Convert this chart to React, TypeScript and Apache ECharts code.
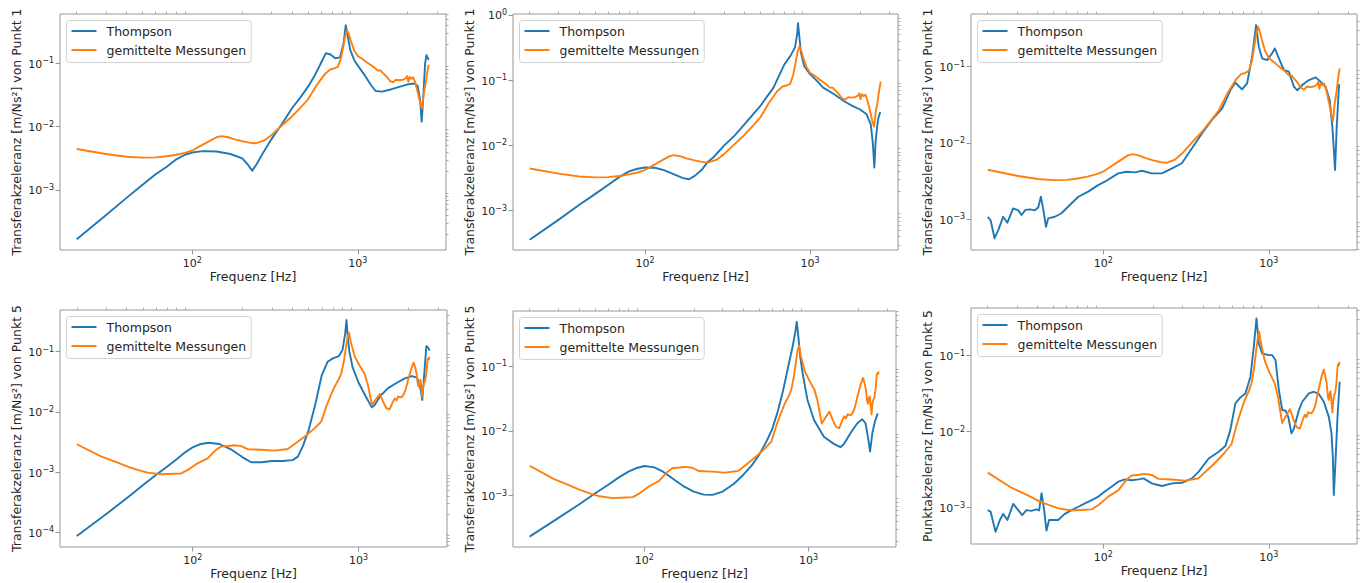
import React, { useEffect, useRef } from 'react';
import * as echarts from 'echarts';

// ---------- data: [frequency Hz, value m/Ns^2] ----------
const orangePunkt1 = [
  [20, 4.44e-3], [30, 3.7e-3], [40, 3.35e-3], [50, 3.24e-3], [60, 3.27e-3], [70, 3.4e-3], [80, 3.6e-3],
  [90, 3.85e-3], [100, 4.2e-3], [110, 4.83e-3], [125, 5.8e-3], [140, 6.8e-3], [150, 7.1e-3], [165, 6.8e-3],
  [180, 6.3e-3], [200, 5.9e-3], [220, 5.6e-3], [240, 5.46e-3], [270, 6.0e-3], [300, 7.3e-3], [350, 1.06e-2],
  [400, 1.45e-2], [450, 2.0e-2], [500, 2.7e-2], [560, 4.4e-2], [630, 6.7e-2], [680, 8.0e-2], [720, 8.3e-2],
  [757, 8.8e-2], [790, 0.12], [815, 0.18], [840, 0.27], [862, 0.335], [885, 0.28], [910, 0.22], [950, 0.16],
  [1000, 0.13], [1050, 0.12], [1130, 0.104], [1230, 0.09], [1320, 0.077], [1370, 0.077], [1420, 0.07],
  [1490, 0.062], [1560, 0.053], [1630, 0.05], [1700, 0.055], [1780, 0.054], [1870, 0.055], [1950, 0.058],
  [1990, 0.063], [2020, 0.051], [2060, 0.061], [2110, 0.057], [2160, 0.06], [2210, 0.052], [2260, 0.042],
  [2320, 0.032], [2380, 0.024], [2440, 0.0195], [2500, 0.033], [2560, 0.045], [2620, 0.07], [2680, 0.095],
];

const orangePunkt5 = [
  [20, 2.9e-3], [28, 1.82e-3], [35, 1.45e-3], [40.5, 1.23e-3], [47, 1.08e-3], [53.5, 9.8e-4], [64, 9.2e-4],
  [77, 9.4e-4], [85, 9.5e-4], [93, 1.08e-3], [107, 1.4e-3], [123, 1.69e-3], [138, 2.33e-3], [148, 2.65e-3],
  [165, 2.72e-3], [178, 2.79e-3], [196, 2.7e-3], [215, 2.4e-3], [258, 2.35e-3], [311, 2.27e-3], [374, 2.42e-3],
  [411, 2.93e-3], [472, 3.88e-3], [542, 5.33e-3], [595, 6.9e-3], [638, 1.22e-2], [680, 1.9e-2], [716, 2.62e-2],
  [760, 3.5e-2], [786, 4.36e-2], [815, 7e-2], [843, 0.129], [860, 0.18], [875, 0.206], [900, 0.14],
  [946, 0.085], [1010, 0.06], [1087, 0.043], [1138, 0.028], [1204, 0.013], [1262, 0.0158], [1341, 0.0198],
  [1404, 0.0148], [1470, 0.0115], [1539, 0.011], [1611, 0.0148], [1650, 0.0168], [1690, 0.0155], [1727, 0.018],
  [1808, 0.0174], [1860, 0.019], [1915, 0.023], [1987, 0.0339], [2080, 0.0528], [2148, 0.0656], [2190, 0.055],
  [2235, 0.044], [2270, 0.03], [2300, 0.0262], [2330, 0.032], [2360, 0.034], [2390, 0.025], [2421, 0.0179],
  [2450, 0.026], [2477, 0.0298], [2520, 0.033], [2560, 0.0436], [2600, 0.07], [2618, 0.0776], [2650, 0.075],
  [2677, 0.0826],
];

const thompsonP1 = [
  [20, 1.66e-4], [30, 3.98e-4], [40, 7.5e-4], [50, 1.21e-3], [60, 1.77e-3], [70, 2.33e-3], [80, 3.05e-3],
  [90, 3.6e-3], [100, 3.9e-3], [115, 4.1e-3], [140, 4.05e-3], [170, 3.7e-3], [200, 3.16e-3], [215, 2.57e-3],
  [230, 2.02e-3], [245, 2.57e-3], [270, 4.03e-3], [300, 6.3e-3], [350, 1.13e-2], [400, 1.95e-2], [450, 2.9e-2],
  [500, 4.28e-2], [550, 6.5e-2], [600, 0.102], [640, 0.144], [680, 0.139], [730, 0.12], [780, 0.124],
  [820, 0.207], [845, 0.4], [870, 0.264], [900, 0.162], [950, 0.113], [1000, 0.092], [1100, 0.065],
  [1200, 0.0455], [1280, 0.0366], [1400, 0.0357], [1600, 0.039], [1800, 0.0428], [2000, 0.0466], [2200, 0.048],
  [2300, 0.044], [2380, 0.0264], [2430, 0.012], [2480, 0.0264], [2550, 0.1], [2600, 0.135], [2680, 0.113],
];

const thompsonP2 = [
  [20, 3.6e-4], [30, 7.3e-4], [40, 1.23e-3], [50, 1.81e-3], [60, 2.5e-3], [70, 3.3e-3], [80, 4.0e-3],
  [90, 4.4e-3], [100, 4.6e-3], [115, 4.55e-3], [130, 4.2e-3], [150, 3.62e-3], [170, 3.16e-3], [185, 3.04e-3],
  [200, 3.42e-3], [220, 4.2e-3], [240, 5.6e-3], [260, 6.6e-3], [300, 9.85e-3], [350, 1.43e-2], [400, 2.11e-2],
  [500, 4.03e-2], [600, 7.7e-2], [700, 0.176], [760, 0.236], [810, 0.316], [835, 0.507], [845, 0.748],
  [860, 0.48], [880, 0.265], [920, 0.166], [1000, 0.124], [1100, 0.0977], [1200, 0.077], [1400, 0.061],
  [1600, 0.048], [1800, 0.0404], [2000, 0.0359], [2200, 0.03], [2330, 0.0212], [2400, 0.011], [2450, 4.6e-3],
  [2500, 0.0124], [2580, 0.025], [2660, 0.0327],
];

const thompsonP3 = [
  [20, 1.07e-3], [20.8, 9.7e-4], [22, 5.6e-4], [23.2, 7.2e-4], [24.8, 1.07e-3], [26.3, 8.95e-4], [28.5, 1.38e-3],
  [30.6, 1.3e-3], [32, 1.13e-3], [33.8, 1.32e-3], [36, 1.34e-3], [38.5, 1.3e-3], [40.4, 1.42e-3], [41.9, 1.96e-3],
  [43.3, 1.35e-3], [45, 7.9e-4], [46.4, 1.02e-3], [50.9, 1.07e-3], [55.8, 1.19e-3], [64.3, 1.61e-3],
  [70.6, 1.96e-3], [81, 2.29e-3], [93, 2.79e-3], [102, 3.09e-3], [123, 3.98e-3], [138, 4.18e-3], [156, 4.1e-3],
  [171, 4.3e-3], [196, 3.98e-3], [226, 3.98e-3], [260, 4.62e-3], [298, 5.4e-3], [343, 8.5e-3], [394, 1.33e-2],
  [453, 2.0e-2], [522, 2.84e-2], [586, 4.94e-2], [628, 6.16e-2], [689, 5.03e-2], [739, 6.05e-2], [792, 0.135],
  [838, 0.352], [869, 0.183], [911, 0.129], [977, 0.122], [1047, 0.15], [1087, 0.174], [1150, 0.129],
  [1233, 0.09], [1321, 0.086], [1418, 0.0546], [1486, 0.049], [1592, 0.0575], [1746, 0.0668], [1918, 0.0724],
  [2055, 0.0636], [2203, 0.0546], [2332, 0.0365], [2420, 0.0163], [2513, 4.4e-3], [2572, 0.0163], [2656, 0.059],
];

const thompsonP4 = [
  [20, 8.7e-5], [30, 2.0e-4], [40, 3.67e-4], [50, 6.04e-4], [60, 8.97e-4], [70, 1.23e-3], [80, 1.63e-3],
  [90, 2.13e-3], [100, 2.58e-3], [110, 2.9e-3], [125, 3.08e-3], [145, 2.93e-3], [170, 2.39e-3], [200, 1.76e-3],
  [225, 1.46e-3], [260, 1.46e-3], [300, 1.53e-3], [350, 1.53e-3], [400, 1.58e-3], [430, 1.81e-3], [460, 2.65e-3],
  [500, 5.0e-3], [550, 1.39e-2], [600, 0.041], [650, 0.068], [700, 0.0775], [760, 0.0847], [800, 0.107],
  [830, 0.201], [845, 0.336], [860, 0.177], [880, 0.1], [920, 0.055], [1000, 0.0305], [1100, 0.0184],
  [1200, 0.0119], [1250, 0.013], [1350, 0.0184], [1500, 0.0246], [1700, 0.0305], [1900, 0.036], [2100, 0.0394],
  [2250, 0.037], [2350, 0.0262], [2420, 0.0158], [2480, 0.0384], [2560, 0.124], [2620, 0.118], [2680, 0.104],
];

const thompsonP5 = [
  [20, 2.34e-4], [30, 4.56e-4], [40, 7.33e-4], [50, 1.08e-3], [60, 1.46e-3], [70, 1.92e-3], [80, 2.35e-3],
  [90, 2.68e-3], [100, 2.87e-3], [115, 2.74e-3], [130, 2.35e-3], [150, 1.81e-3], [175, 1.38e-3], [200, 1.16e-3],
  [230, 1.04e-3], [260, 1.03e-3], [300, 1.16e-3], [350, 1.52e-3], [400, 2.09e-3], [450, 2.91e-3], [500, 4.25e-3],
  [550, 6.6e-3], [600, 1.05e-2], [650, 2.0e-2], [700, 4.2e-2], [750, 9.5e-2], [800, 0.2], [830, 0.33],
  [848, 0.48], [865, 0.3], [890, 0.14], [920, 0.078], [985, 0.03], [1080, 0.0147], [1240, 8.1e-3],
  [1425, 6.3e-3], [1563, 5.6e-3], [1638, 6.2e-3], [1800, 9.2e-3], [1983, 1.31e-2], [2126, 1.51e-2],
  [2224, 1.31e-2], [2300, 8.1e-3], [2370, 4.8e-3], [2447, 9.2e-3], [2538, 1.4e-2], [2640, 1.86e-2],
];

const thompsonP6 = [
  [20, 9.3e-4], [20.8, 8.9e-4], [22.3, 4.83e-4], [23.7, 6.9e-4], [24.8, 8.3e-4], [26.3, 6.9e-4], [28.5, 1.12e-3],
  [30.6, 9.3e-4], [32.3, 8.0e-4], [34.3, 9.3e-4], [36.7, 9.1e-4], [39.4, 9.5e-4], [40.9, 9.2e-4], [42.3, 1.55e-3],
  [43.8, 9.5e-4], [45.3, 5.0e-4], [47, 6.9e-4], [49.7, 6.9e-4], [53.3, 6.9e-4], [58.5, 8.3e-4], [64.3, 9.3e-4],
  [70.6, 1.03e-3], [77.4, 1.14e-3], [85, 1.26e-3], [93.3, 1.4e-3], [102, 1.63e-3], [112, 1.89e-3], [123, 2.2e-3],
  [135, 2.36e-3], [148, 2.3e-3], [163, 2.36e-3], [175, 2.43e-3], [196, 2.09e-3], [226, 1.93e-3], [260, 2.09e-3],
  [298, 2.13e-3], [343, 2.43e-3], [377, 2.98e-3], [433, 4.45e-3], [498, 5.46e-3], [546, 6.47e-3], [585, 1.05e-2],
  [628, 2.36e-2], [673, 2.83e-2], [722, 3.19e-2], [774, 5.3e-2], [811, 0.131], [842, 0.31], [870, 0.145],
  [911, 0.107], [1000, 0.102], [1047, 0.102], [1097, 0.0877], [1150, 0.0353], [1205, 0.0193], [1262, 0.0189],
  [1310, 0.0157], [1370, 9.5e-3], [1418, 1.1e-2], [1520, 0.0193], [1592, 0.0248], [1746, 0.0319], [1871, 0.0336],
  [2005, 0.0313], [2150, 0.0248], [2304, 0.0157], [2391, 9.5e-3], [2436, 4.7e-3], [2470, 1.47e-3], [2530, 4.2e-3],
  [2600, 0.0157], [2680, 0.0455],
];

const seriesNames = ['Thompson', 'gemittelte Messungen'];
const xMajorTicks = [100, 1000];
const xMinorTicks = [20, 30, 40, 50, 60, 70, 80, 90, 200, 300, 400, 500, 600, 700, 800, 900, 2000, 3000];
const xLabel = 'Frequenz [Hz]';
const yLabels = [
  'Transferakzeleranz [m/Ns²] von Punkt 1',
  'Transferakzeleranz [m/Ns²] von Punkt 1',
  'Transferakzeleranz [m/Ns²] von Punkt 1',
  'Transferakzeleranz [m/Ns²] von Punkt 5',
  'Transferakzeleranz [m/Ns²] von Punkt 5',
  'Punktakzeleranz [m/Ns²] von Punkt 5',
];

// ---------- layout ----------
const X_MIN = 15.85;
const X_MAX = 3410;
const panels = [
  { left: 60, top: 14, width: 386, height: 236, yMin: 1.127e-4, yMax: 0.601, th: thompsonP1, me: orangePunkt1 },
  { left: 513, top: 14, width: 385, height: 236, yMin: 2.5e-4, yMax: 1.035, th: thompsonP2, me: orangePunkt1 },
  { left: 971, top: 14, width: 386, height: 236, yMin: 3.92e-4, yMax: 0.492, th: thompsonP3, me: orangePunkt1 },
  { left: 60, top: 310, width: 387, height: 237, yMin: 5.7e-5, yMax: 0.493, th: thompsonP4, me: orangePunkt5 },
  { left: 513, top: 311, width: 383, height: 236, yMin: 1.62e-4, yMax: 0.705, th: thompsonP5, me: orangePunkt5 },
  { left: 971, top: 308, width: 386, height: 236, yMin: 3.33e-4, yMax: 0.425, th: thompsonP6, me: orangePunkt5 },
];

const FONT = 'DejaVu Sans';
const TXT = '#262626';
const FRAME = '#969696';
const BLUE = '#1f77b4';
const ORANGE = '#ff7f0e';

function majorTicks(min: number, max: number) {
  const out: number[] = [];
  for (let e = Math.floor(Math.log10(min)); e <= Math.ceil(Math.log10(max)); e++) {
    const v = Math.pow(10, e);
    if (v >= min && v <= max) out.push(v);
  }
  return out;
}
function minorTicks(min: number, max: number) {
  const out: number[] = [];
  for (let e = Math.floor(Math.log10(min)); e <= Math.ceil(Math.log10(max)); e++) {
    for (let k = 2; k <= 9; k++) {
      const v = k * Math.pow(10, e);
      if (v >= min && v <= max) out.push(v);
    }
  }
  return out;
}
function powLabel(v: number) {
  const e = Math.round(Math.log10(v));
  return `{b|10}{s|${e < 0 ? '\u2212' : ''}${Math.abs(e)}}`;
}
const rich = {
  b: { fontSize: 11, fontFamily: FONT, color: TXT, verticalAlign: 'bottom' },
  s: { fontSize: 8, fontFamily: FONT, color: TXT, verticalAlign: 'bottom', padding: [0, 0, 5, 0] },
};

function buildOption() {
  const grid = panels.map((p) => ({
    left: p.left, top: p.top, width: p.width, height: p.height,
    show: true, borderColor: FRAME, borderWidth: 1, backgroundColor: 'transparent',
    containLabel: false, outerBoundsMode: 'none',
  }));
  const xAxis: any[] = [];
  const yAxis: any[] = [];
  const series: any[] = [];
  const legend: any[] = [];
  panels.forEach((p, i) => {
    xAxis.push({
      type: 'log', gridIndex: i, min: X_MIN, max: X_MAX,
      axisLine: { show: false }, splitLine: { show: false },
      axisTick: { show: true, customValues: xMajorTicks, length: 4.5, lineStyle: { color: FRAME, width: 1 } },
      axisLabel: { customValues: xMajorTicks, formatter: powLabel, rich, margin: 6 },
      name: xLabel, nameLocation: 'middle', nameGap: 20,
      nameTextStyle: { fontSize: 12.5, fontFamily: FONT, color: TXT },
    });
    xAxis.push({
      type: 'log', gridIndex: i, min: X_MIN, max: X_MAX,
      axisLine: { show: false }, splitLine: { show: false }, axisLabel: { show: false },
      axisTick: { show: true, customValues: xMinorTicks, length: 2.5, lineStyle: { color: FRAME, width: 0.8 } },
    });
    yAxis.push({
      type: 'log', gridIndex: i, min: p.yMin, max: p.yMax,
      axisLine: { show: false }, splitLine: { show: false },
      axisTick: { show: true, customValues: majorTicks(p.yMin, p.yMax), length: 4.5, lineStyle: { color: FRAME, width: 1 } },
      axisLabel: { customValues: majorTicks(p.yMin, p.yMax), formatter: powLabel, rich, margin: 6 },
      name: yLabels[i], nameLocation: 'middle', nameGap: 37,
      nameTextStyle: { fontSize: 12.5, fontFamily: FONT, color: TXT },
    });
    yAxis.push({
      type: 'log', gridIndex: i, min: p.yMin, max: p.yMax,
      axisLine: { show: false }, splitLine: { show: false }, axisLabel: { show: false },
      axisTick: { show: true, customValues: minorTicks(p.yMin, p.yMax), length: 2.5, lineStyle: { color: FRAME, width: 0.8 } },
    });
    series.push({
      type: 'line', name: seriesNames[0], xAxisIndex: 2 * i, yAxisIndex: 2 * i, data: p.th,
      symbol: 'none', showSymbol: false, smooth: false,
      color: BLUE, lineStyle: { color: BLUE, width: 1.9, join: 'round' }, z: 2,
    });
    series.push({
      type: 'line', name: seriesNames[1], xAxisIndex: 2 * i, yAxisIndex: 2 * i, data: p.me,
      symbol: 'none', showSymbol: false, smooth: false,
      color: ORANGE, lineStyle: { color: ORANGE, width: 1.9, join: 'round' }, z: 3,
    });
    legend.push({
      data: seriesNames, orient: 'vertical', left: p.left + 6.5, top: p.top + 6.5,
      icon: 'rect', itemWidth: 25, itemHeight: 2, itemGap: 6, padding: [4, 5, 6, 5],
      backgroundColor: 'rgba(255,255,255,0.8)', borderColor: '#d2d2d2', borderWidth: 1, borderRadius: 3,
      textStyle: { fontSize: 12.5, fontFamily: FONT, color: TXT, padding: [0, 0, 0, 5] },
      selectedMode: false,
    });
  });
  return {
    animation: false,
    backgroundColor: '#fff',
    textStyle: { fontFamily: FONT },
    grid, xAxis, yAxis, series, legend,
  };
}

export default function App() {
  const ref = useRef<HTMLDivElement>(null);
  useEffect(() => {
    if (!ref.current) return;
    const chart = echarts.init(ref.current, undefined, { renderer: 'svg' });
    chart.setOption(buildOption() as any);
    return () => chart.dispose();
  }, []);
  return <div ref={ref} style={{ position: 'absolute', left: 0, top: 0, width: 1365, height: 583 }} />;
}
